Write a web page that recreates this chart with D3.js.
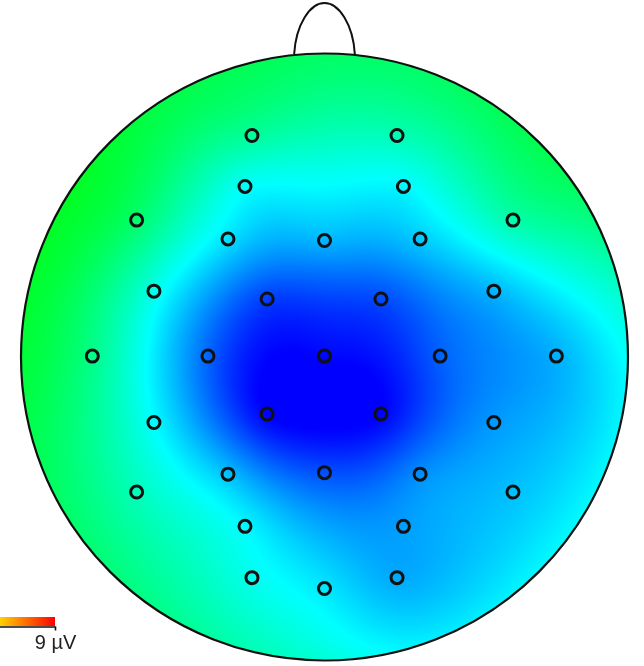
<!DOCTYPE html>
<html>
<head>
<meta charset="utf-8">
<script src="https://cdn.jsdelivr.net/npm/d3@7"></script>
<style>
  body { margin: 0; background: #fff; }
  #wrap { position: relative; width: 644px; height: 666px; overflow: hidden; }
  #wrap canvas, #wrap svg { position: absolute; left: 0; top: 0; }
</style>
</head>
<body>
<div id="wrap">
  <canvas id="map" width="644" height="666"></canvas>
  <svg id="chart" width="644" height="666"></svg>
</div>
<script>
// 32-channel montage: positions in head units (radius 1, +y toward the nose)
const channels = ["Fp1","Fp2","AF3","AF4","F7","F8","F3","Fz","F4","FC5","FC6","FC1","FC2",
                  "T7","C3","Cz","C4","T8","CP1","CP2","CP5","CP6","P3","Pz","P4",
                  "P7","P8","PO3","PO4","O1","Oz","O2"];
const posX = [-0.239, 0.239, -0.262, 0.260, -0.619, 0.621, -0.318, 0.000, 0.315, -0.562, 0.558, -0.189, 0.186,
              -0.765, -0.384, 0.000, 0.381, 0.764, -0.189, 0.186, -0.562, 0.558, -0.318, 0.000, 0.315,
              -0.619, 0.621, -0.262, 0.260, -0.239, 0.000, 0.239];
const posY = [0.730, 0.730, 0.562, 0.562, 0.451, 0.451, 0.389, 0.384, 0.389, 0.217, 0.217, 0.191, 0.191,
              0.003, 0.003, 0.003, 0.003, 0.003, -0.188, -0.188, -0.216, -0.216, -0.386, -0.381, -0.386,
              -0.445, -0.445, -0.558, -0.558, -0.727, -0.763, -0.727];
// amplitude at each channel, µV
const microvolts = [-2.7, -3.2, -4.4, -4.6, -1.9, -3.0, -5.0, -5.8, -5.4, -4.1, -5.8, -7.9, -7.7,
                    -2.4, -7.2, -8.9, -7.3, -5.9, -9.0, -9.0, -4.5, -6.3, -5.6, -7.6, -6.5,
                    -3.3, -5.6, -4.6, -6.2, -4.2, -4.9, -6.0];

// colour map stops (µV) and colours
const colorStops = [-9, -4.5, 0, 4.5, 9];
const colorRange = ["#0000ff", "#00ffff", "#00ff00", "#ffff00", "#ff0000"];
const barTicks = [9];
const unit = "µV";

const W = 644, H = 666;
const cx = 324.5, cy = 357, R = 303.5;
const x = d3.scaleLinear().domain([-1, 1]).range([cx - R, cx + R]);
const y = d3.scaleLinear().domain([-1, 1]).range([cy + R, cy - R]);
const color = d3.scaleLinear().domain(colorStops).range(colorRange).clamp(true);

// ---- biharmonic spline interpolation (Green's function r^2 (ln r - 1)) ----
const n = microvolts.length;
function green(d2) { return d2 > 1e-12 ? d2 * (0.5 * Math.log(d2) - 1) : 0; }
const A = [];
for (let i = 0; i < n; i++) {
  const row = [];
  for (let j = 0; j < n; j++) {
    const dx = posX[i] - posX[j], dy = posY[i] - posY[j];
    row.push(green(dx * dx + dy * dy));
  }
  row.push(microvolts[i]);
  A.push(row);
}
// Gaussian elimination with partial pivoting
for (let c = 0; c < n; c++) {
  let p = c;
  for (let r = c + 1; r < n; r++) if (Math.abs(A[r][c]) > Math.abs(A[p][c])) p = r;
  [A[c], A[p]] = [A[p], A[c]];
  for (let r = c + 1; r < n; r++) {
    const f = A[r][c] / A[c][c];
    for (let k = c; k <= n; k++) A[r][k] -= f * A[c][k];
  }
}
const w = new Array(n).fill(0);
for (let r = n - 1; r >= 0; r--) {
  let s = A[r][n];
  for (let k = r + 1; k < n; k++) s -= A[r][k] * w[k];
  w[r] = s / A[r][r];
}
function interp(u, v) {
  let s = 0;
  for (let j = 0; j < n; j++) {
    const dx = u - posX[j], dy = v - posY[j];
    s += w[j] * green(dx * dx + dy * dy);
  }
  return s;
}

// colour lookup table
const lutMin = -12, lutMax = 12, lutN = 2400;
const lut = new Uint8ClampedArray(lutN * 3);
for (let i = 0; i < lutN; i++) {
  const c = d3.rgb(color(lutMin + (lutMax - lutMin) * i / (lutN - 1)));
  lut[i * 3] = c.r; lut[i * 3 + 1] = c.g; lut[i * 3 + 2] = c.b;
}

// ---- scalp map raster ----
const ctx = document.getElementById("map").getContext("2d");
const img = ctx.createImageData(W, H);
for (let py = Math.floor(cy - R - 2); py <= Math.ceil(cy + R + 2); py++) {
  if (py < 0 || py >= H) continue;
  for (let px = Math.floor(cx - R - 2); px <= Math.ceil(cx + R + 2); px++) {
    if (px < 0 || px >= W) continue;
    const u = x.invert(px + 0.5), v = y.invert(py + 0.5);
    if (u * u + v * v > 1) continue;
    const val = interp(u, v);
    let k = Math.round((val - lutMin) / (lutMax - lutMin) * (lutN - 1));
    k = Math.max(0, Math.min(lutN - 1, k));
    const o = (py * W + px) * 4;
    img.data[o] = lut[k * 3]; img.data[o + 1] = lut[k * 3 + 1]; img.data[o + 2] = lut[k * 3 + 2];
    img.data[o + 3] = 255;
  }
}
ctx.putImageData(img, 0, 0);

// ---- vector overlay ----
const svg = d3.select("#chart");

// nose
const nose = d3.path();
nose.moveTo(x(-0.100), y(0.998));
nose.bezierCurveTo(x(-0.094), y(1.095), x(-0.048), y(1.166), x(0), y(1.166));
nose.bezierCurveTo(x(0.048), y(1.166), x(0.094), y(1.095), x(0.100), y(0.998));
svg.append("path").attr("d", nose.toString())
  .attr("fill", "none").attr("stroke", "#111").attr("stroke-width", 2);

// head outline
svg.append("circle")
  .attr("cx", x(0)).attr("cy", y(0)).attr("r", x(1) - x(0))
  .attr("fill", "none").attr("stroke", "#111").attr("stroke-width", 2.2);

// electrodes
svg.append("g").selectAll("circle")
  .data(channels.map((name, i) => ({ name, u: posX[i], v: posY[i] })))
  .join("circle")
  .attr("cx", d => x(d.u)).attr("cy", d => y(d.v)).attr("r", 6)
  .attr("fill", "none").attr("stroke", "#111").attr("stroke-width", 3);

// colour bar
const barX = d3.scaleLinear().domain([colorStops[0], colorStops[colorStops.length - 1]]).range([-212, 55]);
const defs = svg.append("defs");
const grad = defs.append("linearGradient").attr("id", "bargrad")
  .attr("gradientUnits", "userSpaceOnUse")
  .attr("x1", barX.range()[0]).attr("x2", barX.range()[1]).attr("y1", 0).attr("y2", 0);
grad.selectAll("stop").data(colorStops).join("stop")
  .attr("offset", d => (d - colorStops[0]) / (colorStops[colorStops.length - 1] - colorStops[0]))
  .attr("stop-color", d => color(d));
svg.append("rect")
  .attr("x", barX.range()[0]).attr("y", 617)
  .attr("width", barX.range()[1] - barX.range()[0]).attr("height", 9)
  .attr("fill", "url(#bargrad)");
const axis = svg.append("g").attr("transform", "translate(0,626.5)")
  .call(d3.axisBottom(barX).tickValues(barTicks).tickSize(4).tickSizeOuter(0).tickPadding(4)
    .tickFormat(d => d + " " + unit));
axis.select(".domain").attr("stroke", "#111").attr("stroke-width", 1.6);
axis.selectAll(".tick line").attr("stroke", "#111").attr("stroke-width", 1.6);
axis.selectAll(".tick text")
  .attr("font-family", "Liberation Sans, Arial, sans-serif").attr("font-size", 20)
  .attr("fill", "#222");
</script>
</body>
</html>
